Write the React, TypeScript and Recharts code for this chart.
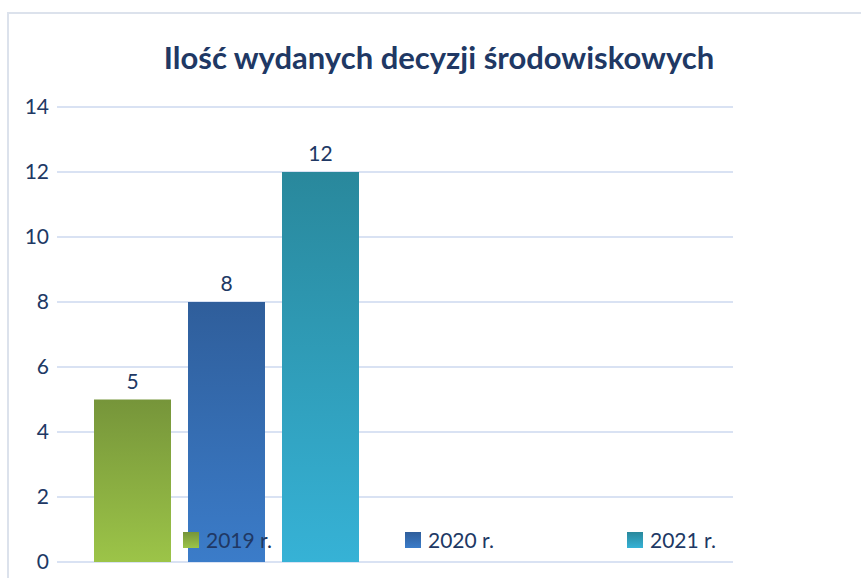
import { BarChart, Bar, XAxis, YAxis, CartesianGrid, Legend, LabelList } from 'recharts';

const categories = ['Decyzje', ''];
const seriesNames = ['2019 r.', '2020 r.', '2021 r.'];
const values2019 = [5, null];
const values2020 = [8, null];
const values2021 = [12, null];
const yTicks = [0, 2, 4, 6, 8, 10, 12, 14];

const gradients = [
  { id: 'g2019', top: '#76953A', bottom: '#9CC448' },
  { id: 'g2020', top: '#2F5E9B', bottom: '#3B7CC9' },
  { id: 'g2021', top: '#29889C', bottom: '#36B2D6' },
];

const data = categories.map((c, i) => ({
  name: c,
  s2019: values2019[i],
  s2020: values2020[i],
  s2021: values2021[i],
}));

const keys = ['s2019', 's2020', 's2021'];
const TEXT = '#203864';
const FONT = 'Lato, "Open Sans", sans-serif';

function LegendBox({ payload }: any) {
  return (
    <div style={{ display: 'flex', fontFamily: FONT, fontSize: 21, color: TEXT }}>
      {(payload || []).map((p: any, i: number) => (
        <div key={i} style={{ width: 222, display: 'flex', alignItems: 'center' }}>
          <span
            style={{
              width: 16,
              height: 16,
              marginRight: 7,
              background: `linear-gradient(${gradients[i].top}, ${gradients[i].bottom})`,
            }}
          />
          <span>{p.value}</span>
        </div>
      ))}
    </div>
  );
}

export default function App() {
  return (
    <div style={{ position: 'absolute', left: 0, top: 0, width: 861, height: 578, overflow: 'hidden', background: '#fff' }}>
      <div
        style={{
          position: 'absolute',
          left: 7,
          top: 12,
          width: 900,
          height: 620,
          border: '2px solid #DCE2EC',
        }}
      />
      <div
        style={{
          position: 'absolute',
          left: 0,
          top: 38,
          width: 878,
          textAlign: 'center',
          fontFamily: FONT,
          fontWeight: 700,
          fontSize: 31,
          color: TEXT,
        }}
      >
        Ilość wydanych decyzji środowiskowych
      </div>
      <div style={{ position: 'absolute', left: 0, top: 0 }}>
        <BarChart
          width={861}
          height={578}
          data={data}
          margin={{ top: 107, right: 128, bottom: 16, left: 0 }}
          barCategoryGap={37}
          barGap={17}
        >
          <defs>
            {gradients.map(g => (
              <linearGradient key={g.id} id={g.id} x1="0" y1="0" x2="0" y2="1">
                <stop offset="0%" stopColor={g.top} />
                <stop offset="100%" stopColor={g.bottom} />
              </linearGradient>
            ))}
          </defs>
          <CartesianGrid vertical={false} stroke="#D9E2F3" strokeWidth={2} />
          <XAxis dataKey="name" hide />
          <YAxis
            width={57}
            domain={[0, 14]}
            ticks={yTicks}
            interval={0}
            axisLine={false}
            tickLine={false}
            tick={{ fontFamily: FONT, fontSize: 21, fill: TEXT }}
          />
          {keys.map((k, i) => (
            <Bar key={k} dataKey={k} name={seriesNames[i]} fill={`url(#${gradients[i].id})`} isAnimationActive={false}>
              <LabelList dataKey={k} position="top" offset={11} fill={TEXT} fontSize={21} fontFamily={FONT} />
            </Bar>
          ))}
          <Legend
            layout="horizontal"
            verticalAlign="middle"
            align="center"
            wrapperStyle={{ top: 527, left: 183, width: 680 }}
            content={LegendBox}
          />
        </BarChart>
      </div>
    </div>
  );
}
